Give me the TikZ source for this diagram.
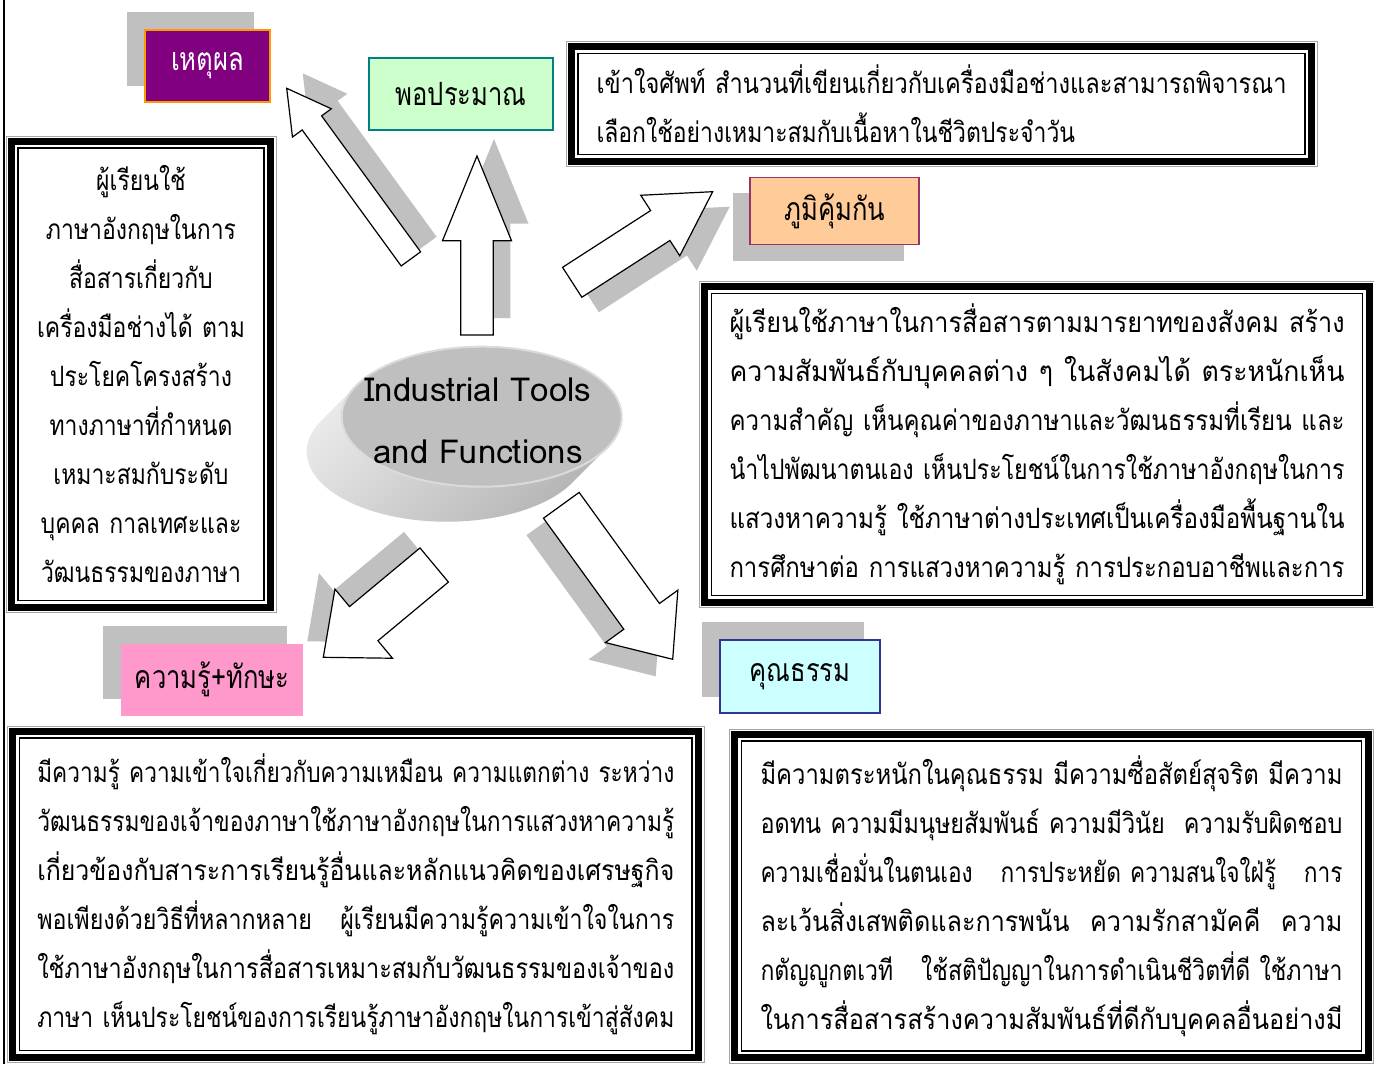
\documentclass[tikz,border=0pt]{standalone}
\usepackage{fontspec}
\usepackage{graphicx}
\usetikzlibrary{calc}
\newfontfamily\thai[Script=Thai]{Loma}
\newfontfamily\thaitag[Script=Thai,FakeStretch=0.8]{Loma}
\newfontfamily\thaibody[Script=Thai,FakeStretch=0.82]{Loma}
\definecolor{shadowgray}{HTML}{C0C0C0}
\definecolor{reasonfill}{HTML}{800080}
\definecolor{reasonline}{HTML}{FF9900}
\definecolor{modfill}{HTML}{CCFFCC}
\definecolor{modline}{HTML}{008080}
\definecolor{immfill}{HTML}{FFCC99}
\definecolor{immline}{HTML}{993366}
\definecolor{knowfill}{HTML}{FF99CC}
\definecolor{virtfill}{HTML}{CCFFFF}
\definecolor{virtline}{HTML}{333399}
\pgfdeclarelayer{background}
\pgfsetlayers{background,main}
\newcommand{\fl}[1]{\resizebox{\linewidth}{\height}{#1}}
% block arrow: style, tip, tail, half shaft, half head, head length
\newcommand{\blockarrow}[6]{%
  \coordinate (hb) at ($(#2)!#6!(#3)$);
  \path[#1] (#2) -- ($(hb)!#5!90:(#2)$) -- ($(hb)!#4!90:(#2)$) -- ($(#3)!#4!90:(#2)$)
    -- ($(#3)!#4!-90:(#2)$) -- ($(hb)!#4!-90:(#2)$) -- ($(hb)!#5!-90:(#2)$) -- cycle;}

\begin{document}
\begin{tikzpicture}[x=0.5pt,y=-0.5pt,
    tag/.style={inner sep=0pt, line width=0.8pt, font=\thaitag\fontsize{16pt}{19pt}\selectfont},
    bigbox/.style={inner sep=0pt, font=\thaibody\fontsize{14pt}{24.5pt}\selectfont},
    arrowbox/.style={draw=black, fill=white, line width=0.6pt}]
  \useasboundingbox (0,0) rectangle (1374,1064);
  \begin{pgfonlayer}{background}
    \fill[white] (0,0) rectangle (1374,1064);
  \end{pgfonlayer}
  \draw[line width=0.8pt] (4,0) -- (4,1064);

  % hub disc
  \shade[top color=gray!12, bottom color=gray!62, shading angle=45]
    (356.5,385.4) -- (321.5,420.4) arc[start angle=206.57, end angle=26.57, x radius=140, y radius=70]
    -- (606.9,448) arc[start angle=26.57, end angle=-153.43, x radius=140, y radius=70] -- cycle;
  \fill[gray!50, draw=gray!28, line width=1pt] (481.7,416.7) ellipse [x radius=140, y radius=70];
  \node[font=\thai\fontsize{16.5pt}{31pt}\selectfont, align=center] (hub) at (478,421) {Industrial Tools\\and Functions};

  % labels
  \node[tag, fill=reasonfill, draw=reasonline, text=white, minimum width=62.5pt, minimum height=36pt] (reason) at (207.5,66) {เหตุผล};
  \node[tag, fill=modfill, draw=modline, minimum width=92pt, minimum height=36pt] (moderation) at (461,94) {พอประมาณ};
  \node[tag, fill=immfill, draw=immline, minimum width=84.5pt, minimum height=33.3pt] (immunity) at (834.7,211) {ภูมิคุ้มกัน\hspace{22pt}};
  \node[tag, fill=knowfill, minimum width=91pt, minimum height=36pt] (knowledge) at (212.2,679.5) {ความรู้+ทักษะ};
  \node[tag, fill=virtfill, draw=virtline, minimum width=80pt, minimum height=36.5pt] (virtue) at (800,676.5) {คุณธรรม};
  \begin{pgfonlayer}{background}
    \foreach \n/\sx/\sy in {reason/-17/-17, immunity/-16/16, knowledge/-17/-17, virtue/-17/-17}
      \fill[shadowgray] ($(\n.north west)+(\sx,\sy)$) rectangle ($(\n.south east)+(\sx,\sy)$);
  \end{pgfonlayer}

  % arrows out of the hub
  \coordinate (t1) at (410.9,258.9); \coordinate (p1) at (286.7,88.3);
  \coordinate (t2) at (477,335);     \coordinate (p2) at (477,156);
  \coordinate (t3) at (572.2,282.3); \coordinate (p3) at (712.7,191.7);
  \coordinate (t4) at (434.2,565);   \coordinate (p4) at (323.3,657.3);
  \coordinate (t5) at (561.3,505.3); \coordinate (p5) at (672.7,659.3);
  \foreach \i/\w/\h/\l/\sx/\sy in {1/6/12/21.4/16/-15, 2/8.15/17.25/42.35/17/-17, 3/8.9/18/31.2/17/15,
      4/11.1/22.5/26.3/-16/-16, 5/11/22.35/26.5/-17/17}{
    \coordinate (sp) at ($(p\i)+(\sx,\sy)$);
    \coordinate (st) at ($(t\i)+(\sx,\sy)$);
    \begin{pgfonlayer}{background}
      \blockarrow{fill=shadowgray}{sp}{st}{\w pt}{\h pt}{\l pt}
    \end{pgfonlayer}
    \blockarrow{arrowbox}{p\i}{t\i}{\w pt}{\h pt}{\l pt}
  }

  % text boxes
  \node[bigbox, minimum width=370pt, minimum height=57pt, text width=345pt, align=left] (tr) at (941.5,104)
    {\fl{เข้าใจศัพท์ สำนวนที่เขียนเกี่ยวกับเครื่องมือช่างและสามารถพิจารณา}\\
     เลือกใช้อย่างเหมาะสมกับเนื้อหาในชีวิตประจำวัน};
  \node[bigbox, minimum width=129.5pt, minimum height=232.75pt, text width=125pt, align=center] (lb) at (141,374.25)
    {ผู้เรียนใช้\\ภาษาอังกฤษในการ\\สื่อสารเกี่ยวกับ\\เครื่องมือช่างได้ ตาม\\ประโยคโครงสร้าง\\ทางภาษาที่กำหนด\\เหมาะสมกับระดับ\\บุคคล กาลเทศะและ\\วัฒนธรรมของภาษา};
  \node[bigbox, minimum width=332pt, minimum height=157.5pt, text width=307.5pt, align=left] (rm) at (1037,444.5)
    {\fl{ผู้เรียนใช้ภาษาในการสื่อสารตามมารยาทของสังคม สร้าง}\\
     \fl{ความสัมพันธ์กับบุคคลต่าง ๆ ในสังคมได้ ตระหนักเห็น}\\
     \fl{ความสำคัญ เห็นคุณค่าของภาษาและวัฒนธรรมที่เรียน และ}\\
     \fl{นำไปพัฒนาตนเอง เห็นประโยชน์ในการใช้ภาษาอังกฤษในการ}\\
     \fl{แสวงหาความรู้  ใช้ภาษาต่างประเทศเป็นเครื่องมือพื้นฐานใน}\\
     \fl{การศึกษาต่อ การแสวงหาความรู้ การประกอบอาชีพและการ}};
  \node[bigbox, minimum width=342.75pt, minimum height=162.75pt, text width=318.5pt, align=left] (bl) at (355.75,894.25)
    {\fl{มีความรู้ ความเข้าใจเกี่ยวกับความเหมือน ความแตกต่าง ระหว่าง}\\
     \fl{วัฒนธรรมของเจ้าของภาษาใช้ภาษาอังกฤษในการแสวงหาความรู้}\\
     \fl{เกี่ยวข้องกับสาระการเรียนรู้อื่นและหลักแนวคิดของเศรษฐกิจ}\\
     \fl{พอเพียงด้วยวิธีที่หลากหลาย \ \ ผู้เรียนมีความรู้ความเข้าใจในการ}\\
     \fl{ใช้ภาษาอังกฤษในการสื่อสารเหมาะสมกับวัฒนธรรมของเจ้าของ}\\
     \fl{ภาษา เห็นประโยชน์ของการเรียนรู้ภาษาอังกฤษในการเข้าสู่สังคม}};
  \node[bigbox, minimum width=316.5pt, minimum height=161.5pt, text width=291pt, align=left] (br) at (1051.5,896)
    {\fl{มีความตระหนักในคุณธรรม มีความซื่อสัตย์สุจริต มีความ}\\
     \fl{อดทน ความมีมนุษยสัมพันธ์ ความมีวินัย \ ความรับผิดชอบ}\\
     \fl{ความเชื่อมั่นในตนเอง \ \ การประหยัด ความสนใจใฝ่รู้ \ \ การ}\\
     \fl{ละเว้นสิ่งเสพติดและการพนัน \ ความรักสามัคคี \ ความ}\\
     \fl{กตัญญูกตเวที \ \ ใช้สติปัญญาในการดำเนินชีวิตที่ดี ใช้ภาษา}\\
     \fl{ในการสื่อสารสร้างความสัมพันธ์ที่ดีกับบุคคลอื่นอย่างมี}};
  \foreach \n in {tr,lb,rm,bl,br}{
    \draw[gray!70, line width=0.4pt] ($(\n.north west)+(-5,-5)$) rectangle ($(\n.south east)+(5,5)$);
    \draw[line width=3.5pt] (\n.north west) rectangle (\n.south east);
    \draw[line width=0.65pt] ($(\n.north west)+(7,7)$) rectangle ($(\n.south east)+(-7,-7)$);
  }
\end{tikzpicture}
\end{document}
